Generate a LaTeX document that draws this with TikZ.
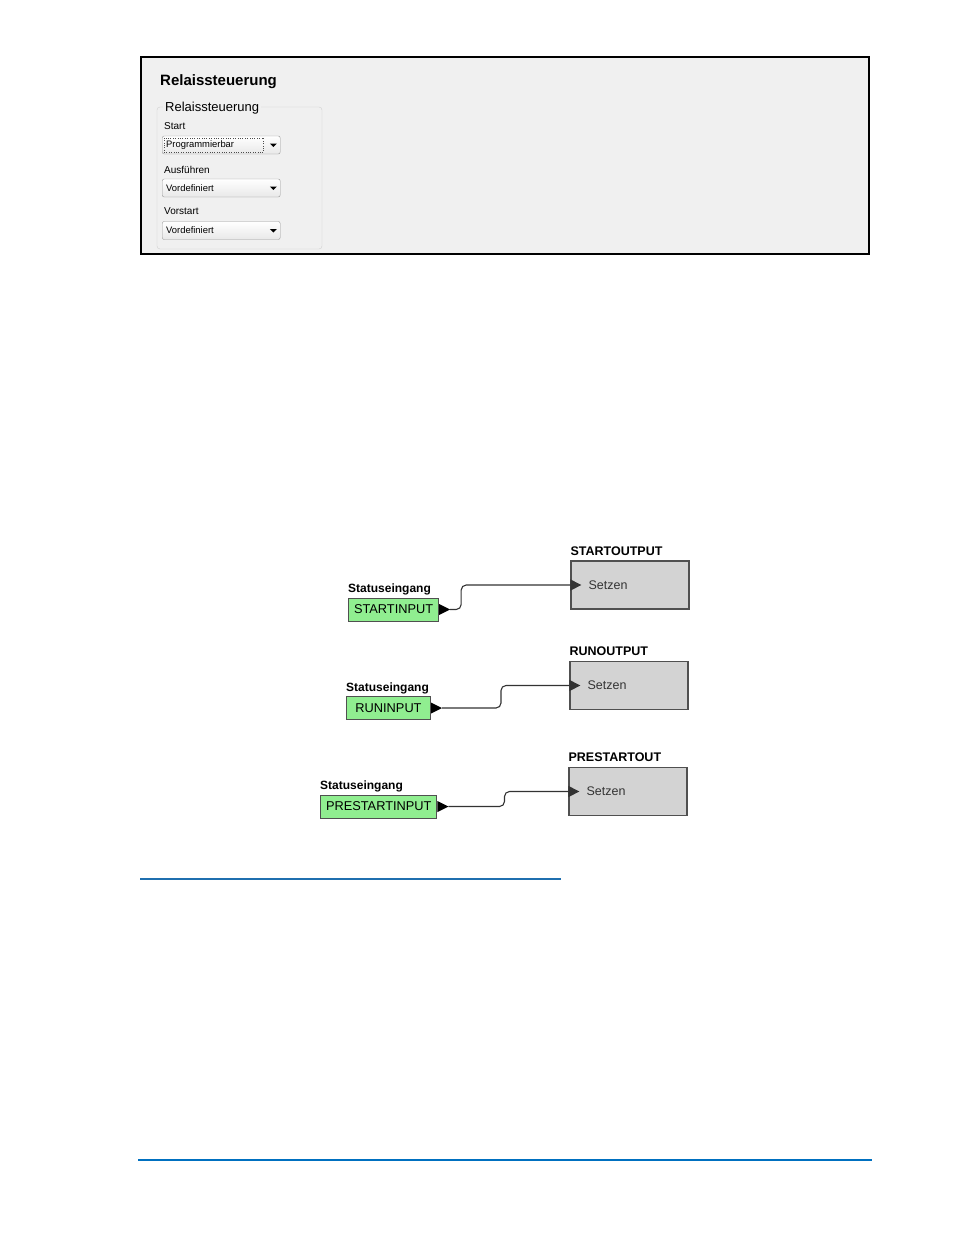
\documentclass[tikz,border=0pt]{standalone}
\usepackage{fontspec}
\setmainfont{Liberation Sans}
\usetikzlibrary{positioning,arrows.meta}
\definecolor{panelgray}{HTML}{F0F0F0}
\definecolor{groupline}{HTML}{D0D0D0}
\definecolor{blockgray}{HTML}{D3D3D3}
\definecolor{inputgreen}{HTML}{90EE90}
\definecolor{edgegray}{HTML}{505050}
\definecolor{ruleblue}{HTML}{1F6FAF}
\definecolor{pageblue}{HTML}{0070C0}

\begin{document}
\begin{tikzpicture}[x=1pt,y=-1pt,
 lbl/.style={anchor=west,inner sep=0pt,font=\fontsize{10}{10}\selectfont},
 combo/.style={draw=gray!80,top color=white,bottom color=gray!18,rounded corners=2pt,
  anchor=west,minimum height=18pt,text width=110pt,inner xsep=4pt,inner ysep=0pt,align=left,
  font=\fontsize{9.4}{9.4}\selectfont},
 block/.style={draw=edgegray,fill=blockgray,line width=1.3pt,minimum width=118pt,minimum height=48pt},
 statein/.style={draw=edgegray,fill=inputgreen,line width=1pt,anchor=west,minimum height=23pt,
  inner xsep=5.5pt,font=\fontsize{12.8}{12.8}\selectfont},
 hdr/.style={inner sep=0pt,anchor=south west,font=\bfseries\fontsize{12.5}{12.5}\selectfont},
 wire/.style={black!80,line width=1.1pt,rounded corners=5pt,-{Triangle[length=11pt,width=11pt]}}]
 \useasboundingbox (0,0) rectangle (954,1235);
 % settings panel
 \draw[line width=1.5pt,fill=panelgray] (141,57) rectangle (869,254);
 \node[anchor=west,inner sep=0pt,font=\bfseries\fontsize{15}{15}\selectfont] (title) at (160,82) {Relaissteuerung};
 \draw[groupline,rounded corners=3pt] (157,107) rectangle (322,249);
 \node[anchor=west,fill=panelgray,inner xsep=2pt,inner ysep=0pt,font=\fontsize{13}{13}\selectfont] (grp) at (163,108.5) {Relaissteuerung};
 \node[lbl] (lstart) at (164,126.5) {Start};
 \node[combo] (cstart) at (162,145) {Programmierbar};
 \draw[black!70,dotted] ([shift={(2,2)}]cstart.north west) rectangle ([shift={(-17,-2)}]cstart.south east);
 \node[lbl] (lrun) at (164,169.5) {Ausführen};
 \node[combo] (crun) at (162,188) {Vordefiniert};
 \node[lbl] (lpre) at (164,211.5) {Vorstart};
 \node[combo] (cpre) at (162,230.5) {Vordefiniert};
 \fill ([xshift=-7pt]cstart.east) ++(-3.5,-1.5) -- ++(7,0) -- ++(-3.5,3.5) -- cycle;
 \fill ([xshift=-7pt]crun.east) ++(-3.5,-1.5) -- ++(7,0) -- ++(-3.5,3.5) -- cycle;
 \fill ([xshift=-7pt]cpre.east) ++(-3.5,-1.5) -- ++(7,0) -- ++(-3.5,3.5) -- cycle;

 % start
 \node[block] (out1) at (630,585) {};
 \node[hdr] (h1) at ([yshift=5pt]out1.north west) {STARTOUTPUT};
 \node[anchor=west,inner sep=0pt,text=black!80,font=\fontsize{12.5}{12.5}\selectfont] (set1) at ([xshift=18pt]out1.west) {Setzen};
 \node[statein] (in1) at (348,609.5) {STARTINPUT};
 \node[hdr,font=\bfseries\fontsize{12}{12}\selectfont] (s1) at ([yshift=2pt]in1.north west) {Statuseingang};
 \fill (in1.east) ++(0,-5.5) -- ++(11,5.5) -- ++(-11,5.5) -- cycle;
 \coordinate (o1) at ([xshift=11pt]in1.east);
 \coordinate (t1) at ([xshift=11pt]out1.west);
 \draw[wire] (o1) -- ++(11,0) |- (t1);

 % run
 \node[block] (out2) at (629,685.5) {};
 \node[hdr] (h2) at ([yshift=5pt]out2.north west) {RUNOUTPUT};
 \node[anchor=west,inner sep=0pt,text=black!80,font=\fontsize{12.5}{12.5}\selectfont] (set2) at ([xshift=18pt]out2.west) {Setzen};
 \node[statein,minimum width=84pt] (in2) at (346,708) {RUNINPUT};
 \node[hdr,font=\bfseries\fontsize{12}{12}\selectfont] (s2) at ([yshift=2pt]in2.north west) {Statuseingang};
 \fill (in2.east) ++(0,-5.5) -- ++(11,5.5) -- ++(-11,5.5) -- cycle;
 \coordinate (o2) at ([xshift=11pt]in2.east);
 \coordinate (t2) at ([xshift=11pt]out2.west);
 \draw[wire] (o2) -- ++(59,0) |- (t2);

 % prestart
 \node[block] (out3) at (628,791.5) {};
 \node[hdr] (h3) at ([yshift=5pt]out3.north west) {PRESTARTOUT};
 \node[anchor=west,inner sep=0pt,text=black!80,font=\fontsize{12.5}{12.5}\selectfont] (set3) at ([xshift=18pt]out3.west) {Setzen};
 \node[statein] (in3) at (320,806.5) {PRESTARTINPUT};
 \node[hdr,font=\bfseries\fontsize{12}{12}\selectfont] (s3) at ([yshift=2pt]in3.north west) {Statuseingang};
 \fill (in3.east) ++(0,-5.5) -- ++(11,5.5) -- ++(-11,5.5) -- cycle;
 \coordinate (o3) at ([xshift=11pt]in3.east);
 \coordinate (t3) at ([xshift=11pt]out3.west);
 \draw[wire] (o3) -- ++(56,0) |- (t3);

 % rules
 \draw[ruleblue,line width=1.3pt] (140,879) -- (561,879);
 \draw[pageblue,line width=1.2pt] (138,1160) -- (872,1160);
\end{tikzpicture}
\end{document}
